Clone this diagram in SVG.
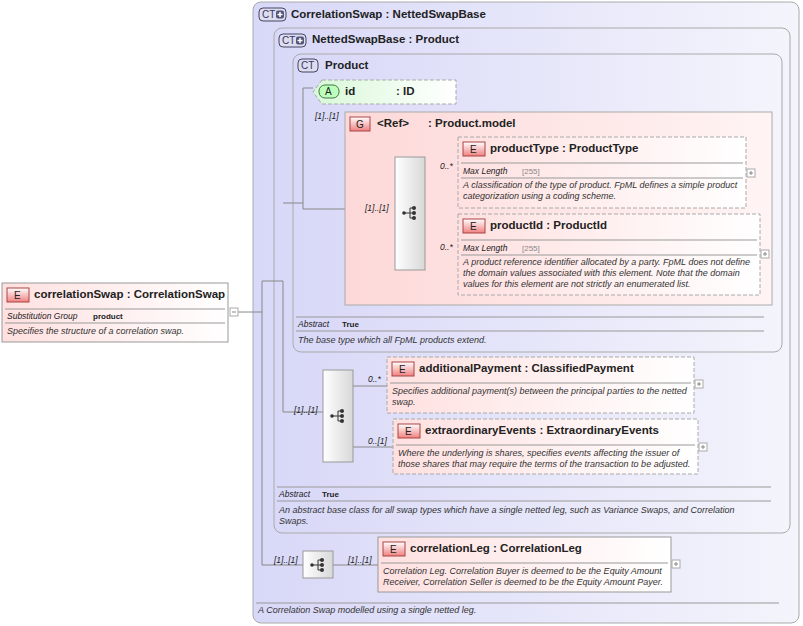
<svg xmlns="http://www.w3.org/2000/svg" width="803" height="626" viewBox="0 0 803 626">
<defs>
<linearGradient id="ct" x1="0" y1="0" x2="1" y2="0"><stop offset="0" stop-color="#d8d8f8"/><stop offset="1" stop-color="#f4f4fc"/></linearGradient>
<linearGradient id="pk" x1="0" y1="0" x2="1" y2="0"><stop offset="0" stop-color="#fdd8d8"/><stop offset="1" stop-color="#fff4f4"/></linearGradient>
<linearGradient id="el" x1="0" y1="0" x2="1" y2="0"><stop offset="0" stop-color="#ffe0e0"/><stop offset="1" stop-color="#fff"/></linearGradient>
<linearGradient id="gr" x1="0" y1="0" x2="1" y2="0"><stop offset="0" stop-color="#d8f8d8"/><stop offset="1" stop-color="#fff"/></linearGradient>
<linearGradient id="sq" x1="0" y1="0" x2="1" y2="0"><stop offset="0" stop-color="#fff"/><stop offset="1" stop-color="#d8d8d8"/></linearGradient>
<linearGradient id="badge" x1="0" y1="0" x2="0" y2="1"><stop offset="0" stop-color="#fff"/><stop offset="1" stop-color="#f08080"/></linearGradient>
<g id="seqicon"><circle cx="-6" cy="0" r="1.8" fill="#333"/><path d="M-6 0H0M0-5V5M0-5H4M0 0H4M0 5H4" stroke="#333" fill="none"/><circle cx="4" cy="-5" r="2" fill="#333"/><circle cx="4" cy="0" r="2" fill="#333"/><circle cx="4" cy="5" r="2" fill="#333"/></g>
<g id="ctplus"><rect x="-4" y="-4" width="8" height="8" rx="2" fill="#557"/><path d="M-2.5 0h5M0-2.5v5" stroke="#fff" stroke-width="1.5"/></g>
</defs>
<style>
text{font-family:"Liberation Sans",Arial,sans-serif;fill:#222}
.t{font-size:11.5px;font-weight:bold}
.d{font-size:9px;font-style:italic;fill:#333}
.m{font-size:8.5px;font-style:italic}
.b{font-size:8px;font-weight:bold}
.g{font-size:8px;fill:#888}
.ctb{fill:url(#ct);stroke:#aaa;stroke-width:1}
.elb{fill:url(#el);stroke:#999}
.dash{stroke-dasharray:4,2;stroke:#aaa}
.sep{stroke:#999;stroke-width:1}
.ln{stroke:#888;fill:none}
.bd{fill:url(#badge);stroke:#a44}
.ctbd{fill:#dde;stroke:#446}
.sqb{fill:url(#sq);stroke:#999}
.pl{fill:#fff;stroke:#aaa}
</style>

<g id="CorrelationSwap">
<rect class="ctb" x="253" y="2" width="546" height="621" rx="8"/>
<rect class="ctbd" x="259" y="8" width="27" height="13" rx="4"/><text x="262" y="18" style="font-size:10px;fill:#336">CT</text><use href="#ctplus" x="280" y="14.5"/>
<text class="t" x="291" y="18">CorrelationSwap : NettedSwapBase</text>
<line class="sep" x1="256" y1="603" x2="779" y2="603"/>
<text class="d" x="258" y="613">A Correlation Swap modelled using a single netted leg.</text>
</g>

<g id="NettedSwapBase">
<rect class="ctb" x="274" y="28" width="516" height="505" rx="8"/>
<rect class="ctbd" x="279" y="34" width="27" height="13" rx="4"/><text x="282" y="44" style="font-size:10px;fill:#336">CT</text><use href="#ctplus" x="300" y="40.5"/>
<text class="t" x="312" y="43">NettedSwapBase : Product</text>
<line class="sep" x1="277" y1="487" x2="771" y2="487"/>
<text class="m" x="279" y="497">Abstract</text><text class="b" x="322" y="497">True</text>
<line class="sep" x1="277" y1="501" x2="771" y2="501"/>
<text class="d" x="279" y="513">An abstract base class for all swap types which have a single netted leg, such as Variance Swaps, and Correlation</text>
<text class="d" x="279" y="524">Swaps.</text>
</g>

<g id="Product">
<rect class="ctb" x="293" y="54" width="489" height="298" rx="8"/>
<rect class="ctbd" x="298" y="59" width="20" height="13" rx="4"/><text x="301" y="69" style="font-size:10px;fill:#336">CT</text>
<text class="t" x="325" y="69">Product</text>
<line class="sep" x1="296" y1="317" x2="764" y2="317"/>
<text class="m" x="298" y="327">Abstract</text><text class="b" x="342" y="327">True</text>
<line class="sep" x1="296" y1="331" x2="764" y2="331"/>
<text class="d" x="298" y="343">The base type which all FpML products extend.</text>
</g>

<g id="connectors">
<path class="ln" d="M237 312H262M262 281V565H303M262 281H283V412H323M283 203H303M303 88V209H395M303 88H313M425 172H458M425 253H458M353 386H387M353 447H393M333 565H378"/>
</g>

<g id="id">
<path d="M322 80H456V104H322L313 92Z" fill="url(#gr)" class="dash"/>
<rect x="319" y="85" width="20" height="13" rx="6" fill="#bfb" stroke="#474"/><text x="325" y="95" style="font-size:10px">A</text>
<text class="t" x="345" y="95">id</text><text class="t" x="396" y="95">: ID</text>
</g>

<g id="ProductModel">
<text class="m" x="315" y="119">[1]..[1]</text>
<rect x="345" y="112" width="427" height="193" fill="url(#pk)" stroke="#aaa"/>
<rect class="bd" x="350" y="117" width="20" height="14"/><text x="356" y="128" style="font-size:10px">G</text>
<text class="t" x="377" y="127">&lt;Ref&gt;</text><text class="t" x="428" y="127">: Product.model</text>
<rect class="sqb" x="395" y="157" width="30" height="113"/><use href="#seqicon" x="410" y="213"/>
<text class="m" x="365" y="211">[1]..[1]</text>
<text class="m" x="440" y="169">0..*</text>
<text class="m" x="440" y="250">0..*</text>
</g>

<g id="productType">
<rect class="elb dash" x="458" y="137" width="288" height="71" fill="url(#el)"/>
<rect class="bd" x="463" y="142" width="22" height="14"/><text x="470" y="153" style="font-size:10px">E</text>
<text class="t" x="490" y="152">productType : ProductType</text>
<line class="sep" x1="461" y1="163" x2="743" y2="163"/>
<text class="m" x="463" y="174">Max Length</text><text class="g" x="522" y="174">[255]</text>
<line class="sep" x1="461" y1="178" x2="743" y2="178"/>
<text class="d" x="463" y="188">A classification of the type of product. FpML defines a simple product</text>
<text class="d" x="463" y="199">categorization using a coding scheme.</text>
<rect class="pl" x="747" y="169" width="8" height="8"/><path class="ln" d="M749 173h4M751 171v4"/>
</g>

<g id="productId">
<rect class="elb dash" x="458" y="214" width="302" height="81" fill="url(#el)"/>
<rect class="bd" x="463" y="219" width="22" height="14"/><text x="470" y="230" style="font-size:10px">E</text>
<text class="t" x="490" y="229">productId : ProductId</text>
<line class="sep" x1="461" y1="240" x2="757" y2="240"/>
<text class="m" x="463" y="251">Max Length</text><text class="g" x="522" y="251">[255]</text>
<line class="sep" x1="461" y1="255" x2="757" y2="255"/>
<text class="d" x="463" y="265">A product reference identifier allocated by a party. FpML does not define</text>
<text class="d" x="463" y="276">the domain values associated with this element. Note that the domain</text>
<text class="d" x="463" y="287">values for this element are not strictly an enumerated list.</text>
<rect class="pl" x="761" y="250" width="8" height="8"/><path class="ln" d="M763 254h4M765 252v4"/>
</g>

<g id="seq2">
<text class="m" x="294" y="413">[1]..[1]</text>
<rect class="sqb" x="323" y="370" width="30" height="92"/><use href="#seqicon" x="338" y="416"/>
<text class="m" x="368" y="382">0..*</text>
<text class="m" x="368" y="444">0..[1]</text>
</g>

<g id="additionalPayment">
<rect class="elb dash" x="387" y="357" width="307" height="56" fill="url(#el)"/>
<rect class="bd" x="392" y="362" width="22" height="14"/><text x="399" y="373" style="font-size:10px">E</text>
<text class="t" x="419" y="372">additionalPayment : ClassifiedPayment</text>
<line class="sep" x1="390" y1="383" x2="691" y2="383"/>
<text class="d" x="392" y="394">Specifies additional payment(s) between the principal parties to the netted</text>
<text class="d" x="392" y="405">swap.</text>
<rect class="pl" x="695" y="380" width="8" height="8"/><path class="ln" d="M697 384h4M699 382v4"/>
</g>

<g id="extraordinaryEvents">
<rect class="elb dash" x="393" y="419" width="305" height="55" fill="url(#el)"/>
<rect class="bd" x="398" y="424" width="22" height="14"/><text x="405" y="435" style="font-size:10px">E</text>
<text class="t" x="425" y="434">extraordinaryEvents : ExtraordinaryEvents</text>
<line class="sep" x1="396" y1="445" x2="695" y2="445"/>
<text class="d" x="398" y="456">Where the underlying is shares, specifies events affecting the issuer of</text>
<text class="d" x="398" y="467">those shares that may require the terms of the transaction to be adjusted.</text>
<rect class="pl" x="699" y="443" width="8" height="8"/><path class="ln" d="M701 447h4M703 445v4"/>
</g>

<g id="seq3">
<text class="m" x="274" y="563">[1]..[1]</text>
<rect class="sqb" x="303" y="551" width="30" height="27"/><use href="#seqicon" x="318" y="565"/>
<text class="m" x="348" y="563">[1]..[1]</text>
</g>

<g id="correlationLeg">
<rect class="elb" x="378" y="537" width="293" height="55" fill="url(#el)"/>
<rect class="bd" x="383" y="542" width="22" height="14"/><text x="390" y="553" style="font-size:10px">E</text>
<text class="t" x="410" y="552">correlationLeg : CorrelationLeg</text>
<line class="sep" x1="381" y1="563" x2="668" y2="563"/>
<text class="d" x="383" y="574">Correlation Leg. Correlation Buyer is deemed to be the Equity Amount</text>
<text class="d" x="383" y="585">Receiver, Correlation Seller is deemed to be the Equity Amount Payer.</text>
<rect class="pl" x="672" y="560" width="8" height="8"/><path class="ln" d="M674 564h4M676 562v4"/>
</g>

<g id="correlationSwap">
<rect class="elb" x="2" y="283" width="226" height="59" fill="url(#el)"/>
<rect class="bd" x="7" y="288" width="22" height="14"/><text x="14" y="299" style="font-size:10px">E</text>
<text class="t" x="34" y="298">correlationSwap : CorrelationSwap</text>
<line class="sep" x1="5" y1="309" x2="225" y2="309"/>
<text class="m" x="7" y="319">Substitution Group</text><text class="b" x="93" y="319">product</text>
<line class="sep" x1="5" y1="323" x2="225" y2="323"/>
<text class="d" x="7" y="334">Specifies the structure of a correlation swap.</text>
<rect class="pl" x="230" y="308" width="8" height="8"/><path class="ln" d="M232 312h4"/>
</g>
</svg>
